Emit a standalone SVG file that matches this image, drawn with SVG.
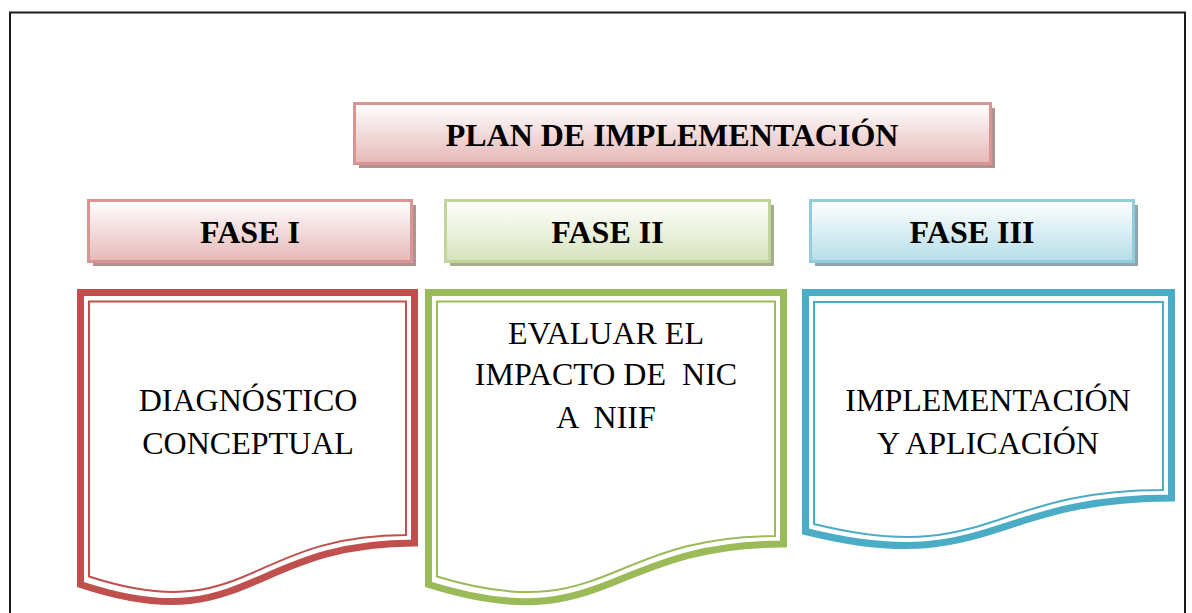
<svg xmlns="http://www.w3.org/2000/svg" width="1192" height="613" viewBox="0 0 1192 613">
  <defs>
    <linearGradient id="gRed" x1="0" y1="0" x2="0" y2="1">
      <stop offset="0" stop-color="#ffffff"/>
      <stop offset="1" stop-color="#e5b8b7"/>
    </linearGradient>
    <linearGradient id="gGreen" x1="0" y1="0" x2="0" y2="1">
      <stop offset="0" stop-color="#ffffff"/>
      <stop offset="1" stop-color="#d6e3bc"/>
    </linearGradient>
    <linearGradient id="gBlue" x1="0" y1="0" x2="0" y2="1">
      <stop offset="0" stop-color="#ffffff"/>
      <stop offset="1" stop-color="#b6dde8"/>
    </linearGradient>
  </defs>
  <style>
    .hdr { font-family: "Liberation Serif", "Times New Roman", serif; font-weight: bold; font-size: 32px; fill: #000; text-anchor: middle; }
    .body { font-family: "Liberation Serif", "Times New Roman", serif; font-size: 32px; fill: #000; text-anchor: middle; white-space: pre; }
    .thick { fill: #ffffff; stroke-width: 7; stroke-linejoin: miter; }
    .thin { fill: none; stroke-width: 2; }
    .red { stroke: #c0504d; }
    .green { stroke: #9bbb59; }
    .blue { stroke: #4bacc6; }
  </style>

  <rect x="0" y="0" width="1192" height="613" fill="#ffffff"/>
  <rect id="frame" x="10" y="12.5" width="1175" height="620" fill="none" stroke="#1a1a1a" stroke-width="2"/>

  <g id="plan">
    <rect x="359" y="108" width="636" height="60" fill="#b39191"/>
    <rect x="354.5" y="103.5" width="636" height="60" fill="url(#gRed)" stroke="#d99594" stroke-width="3"/>
    <text class="hdr" x="672" y="146">PLAN DE IMPLEMENTACIÓN</text>
  </g>

  <g id="fase1">
    <rect x="93" y="205" width="323" height="61" fill="#b39191"/>
    <rect x="88.5" y="200.5" width="323" height="61" fill="url(#gRed)" stroke="#d99594" stroke-width="3"/>
    <text class="hdr" x="250" y="243">FASE I</text>
  </g>

  <g id="fase2">
    <rect x="450" y="205" width="324" height="61" fill="#a3ae8e"/>
    <rect x="445.5" y="200.5" width="324" height="61" fill="url(#gGreen)" stroke="#c2d69b" stroke-width="3"/>
    <text class="hdr" x="607.5" y="243">FASE II</text>
  </g>

  <g id="fase3">
    <rect x="815" y="205" width="323" height="61" fill="#8fa6ad"/>
    <rect x="810.5" y="200.5" width="323" height="61" fill="url(#gBlue)" stroke="#92cddc" stroke-width="3"/>
    <text class="hdr" x="972" y="243">FASE III</text>
  </g>

  <g id="doc1">
    <path class="thick red" d="M80.5,292.5 H414.5 V543 C247.5,543 247.5,640 80.5,584.5 Z"/>
    <path class="thin red" d="M89,301.5 H406 V535 C247.5,535 247.5,628 89,576.5 Z"/>
    <text class="body" x="248" y="411">DIAGNÓSTICO</text>
    <text class="body" x="248" y="454">CONCEPTUAL</text>
  </g>

  <g id="doc2">
    <path class="thick green" d="M428.5,292.5 H783.5 V544 C606,544 606,640 428.5,584.5 Z"/>
    <path class="thin green" d="M437,301.5 H775 V536 C606,536 606,628 437,576.5 Z"/>
    <text class="body" x="606" y="344">EVALUAR EL</text>
    <text class="body" x="606" y="385">IMPACTO DE  NIC</text>
    <text class="body" x="606" y="428">A  NIIF</text>
  </g>

  <g id="doc3">
    <path class="thick blue" d="M805.5,292.5 H1171.5 V498 C988.5,498 988.5,577 805.5,531.5 Z"/>
    <path class="thin blue" d="M814,302 H1163 V490 C988.5,490 988.5,567 814,524 Z"/>
    <text class="body" x="988" y="411">IMPLEMENTACIÓN</text>
    <text class="body" x="988" y="454">Y APLICACIÓN</text>
  </g>

  <g id="connectors"/>
</svg>
